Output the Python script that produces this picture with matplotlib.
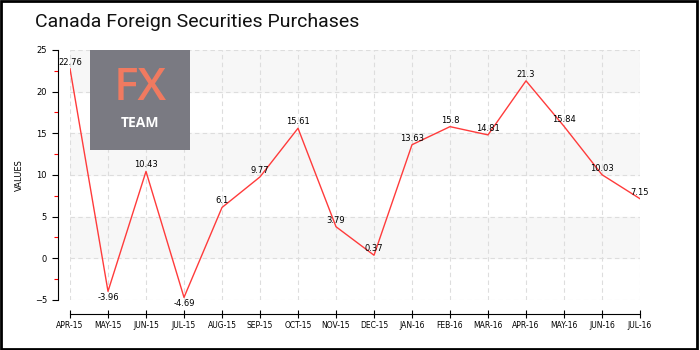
import matplotlib.pyplot as plt
import matplotlib.patches as patches
import numpy as np

months = ['APR-15', 'MAY-15', 'JUN-15', 'JUL-15', 'AUG-15', 'SEP-15', 'OCT-15', 'NOV-15',
          'DEC-15', 'JAN-16', 'FEB-16', 'MAR-16', 'APR-16', 'MAY-16', 'JUN-16', 'JUL-16']
values = [22.76, -3.96, 10.43, -4.69, 6.1, 9.77, 15.61, 3.79,
          0.37, 13.63, 15.8, 14.81, 21.3, 15.84, 10.03, 7.15]
labels = ['22.76', '-3.96', '10.43', '-4.69', '6.1', '9.77', '15.61', '3.79',
          '0.37', '13.63', '15.8', '14.81', '21.3', '15.84', '10.03', '7.15']

fig = plt.figure(figsize=(7, 3.5), dpi=100)
ax = fig.add_axes([0.1, 0.1429, 0.8143, 0.7143])

x = np.arange(len(months))
ax.set_xlim(0, len(months) - 1)
ax.set_ylim(-5, 25)

# alternating bands
for lo in [0, 10, 20]:
    ax.axhspan(lo, lo + 5, color='#f7f7f7', zorder=0)

ax.grid(True, linestyle=(0, (4, 3)), color='#dddddd', linewidth=0.8)
ax.set_axisbelow(True)

ax.plot(x, values, color='#ff3b3b', linewidth=1, zorder=3)
for xi, v, lab in zip(x, values, labels):
    if v < 0:
        ax.annotate(lab, (xi, v), xytext=(0, -1), textcoords='offset points',
                    ha='center', va='top', fontsize=6, color='black', zorder=4)
    else:
        ax.annotate(lab, (xi, v), xytext=(0, 1.5), textcoords='offset points',
                    ha='center', va='bottom', fontsize=6, color='black', zorder=4)

ax.set_xticks(x)
ax.set_xticklabels(months)
ax.set_yticks(np.arange(-5, 26, 5))
ax.set_yticks(np.arange(-2.5, 25, 5), minor=True)
ax.tick_params(axis='y', which='major', labelsize=6, length=4, width=0.8)
ax.tick_params(axis='y', which='minor', length=3, color='red', width=0.8)
ax.tick_params(axis='x', direction='inout', length=6, width=0.8, pad=2, labelsize=5.5)
ax.set_ylabel('VALUES', fontsize=6, labelpad=8)

for s in ['top', 'right']:
    ax.spines[s].set_visible(False)
ax.spines['left'].set_position(('outward', 9))
ax.spines['bottom'].set_position(('outward', 10))

# logo
logo = fig.add_axes([90 / 700, 1 - 150 / 350, 100 / 700, 100 / 350])
logo.set_facecolor('#7a7a82')
logo.set_xticks([])
logo.set_yticks([])
for s in logo.spines.values():
    s.set_visible(False)
logo.text(0.5, 0.61, 'FX', color='#f07a60', fontsize=33, ha='center', va='center',
          family='Open Sans', fontweight='semibold')
logo.text(0.5, 0.27, 'TEAM', color='white', fontsize=10, ha='center', va='center',
          family='Open Sans', fontweight='bold')

fig.text(35 / 700, 1 - 22 / 350, 'Canada Foreign Securities Purchases', fontsize=14,
         ha='left', va='center', family='Roboto', color='#111111')

fig.patches.append(patches.Rectangle((0.001, 0.004), 0.995, 0.993, transform=fig.transFigure,
                                     fill=False, edgecolor='black', linewidth=2))

fig.savefig('out.png', dpi=100)
